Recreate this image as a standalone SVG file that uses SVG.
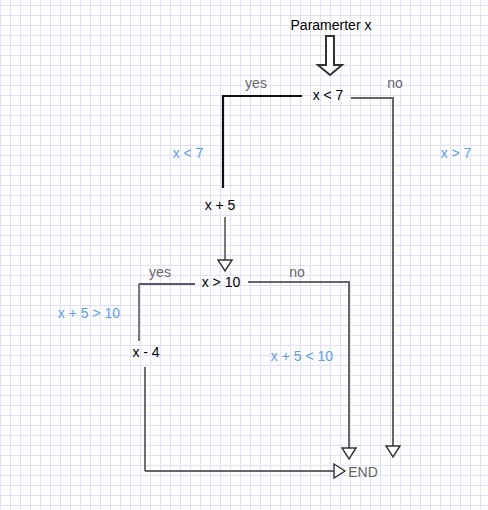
<svg xmlns="http://www.w3.org/2000/svg" width="488" height="510" viewBox="0 0 488 510">
<style>
text{font-family:"Liberation Sans",Arial,sans-serif;font-size:14px;text-anchor:middle}
.t{fill:#000}
.g{fill:#666}
.b{fill:#5e9de6}
.ln{fill:none;stroke-linecap:butt;stroke-linejoin:miter}
</style>
<defs>
<pattern id="grid" patternUnits="userSpaceOnUse" x="0" y="5" width="10" height="10">
<rect x="0" y="0" width="10" height="10" fill="#fff"/>
<rect x="0" y="0" width="1" height="10" fill="#e0e0f9"/>
<rect x="0" y="0" width="10" height="1" fill="#e0e0f9"/>
</pattern>
<marker id="tri" markerUnits="userSpaceOnUse" viewBox="-1 -1 14 16" refX="0" refY="7" markerWidth="14" markerHeight="16" orient="auto">
<path d="M0,0 L11,7 L0,14 Z" fill="#fff" stroke="#333" stroke-width="1.4"/>
</marker>
</defs>
<rect width="488" height="510" fill="url(#grid)"/>
<g id="connectors">
<path id="input-arrow" d="M326,36 H334 V65 H342 L330,75 L318,65 H326 Z" fill="#fff" stroke="#333" stroke-width="2" stroke-linejoin="miter"/>
<path class="ln" d="M302,96 H223 V188" stroke="#111" stroke-width="2.2"/>
<path class="ln" d="M351,98 H393 V446" stroke="#666" stroke-width="2" marker-end="url(#tri)"/>
<path class="ln" d="M225,217 V260" stroke="#777" stroke-width="2" marker-end="url(#tri)"/>
<path class="ln" d="M195,284 H139" stroke="#222" stroke-width="1.3"/>
<path class="ln" d="M139,283.5 V341" stroke="#777" stroke-width="2"/>
<path class="ln" d="M248,282 H349 V448" stroke="#666" stroke-width="2" marker-end="url(#tri)"/>
<path class="ln" d="M145,367 V471" stroke="#333" stroke-width="1.4"/>
<path class="ln" d="M145,471 H334" stroke="#666" stroke-width="2" marker-end="url(#tri)"/>
<text class="g" x="256" y="88">yes</text>
<text class="g" x="395" y="88">no</text>
<text class="g" x="160" y="277">yes</text>
<text class="g" x="297" y="277">no</text>
<text class="b" x="188" y="158">x &lt; 7</text>
<text class="b" x="456" y="158">x &gt; 7</text>
<text class="b" x="89" y="318">x + 5 &gt; 10</text>
<text class="b" x="302" y="361">x + 5 &lt; 10</text>
</g>
<g id="param"><text class="t" x="331" y="30">Paramerter x</text></g>
<g id="cond1"><text class="t" x="328" y="100">x &lt; 7</text></g>
<g id="plus5"><text class="t" x="220" y="210">x + 5</text></g>
<g id="cond2"><text class="t" x="221" y="287">x &gt; 10</text></g>
<g id="minus4"><text class="t" x="146" y="357">x - 4</text></g>
<g id="end"><text class="g" x="363" y="477">END</text></g>
</svg>
